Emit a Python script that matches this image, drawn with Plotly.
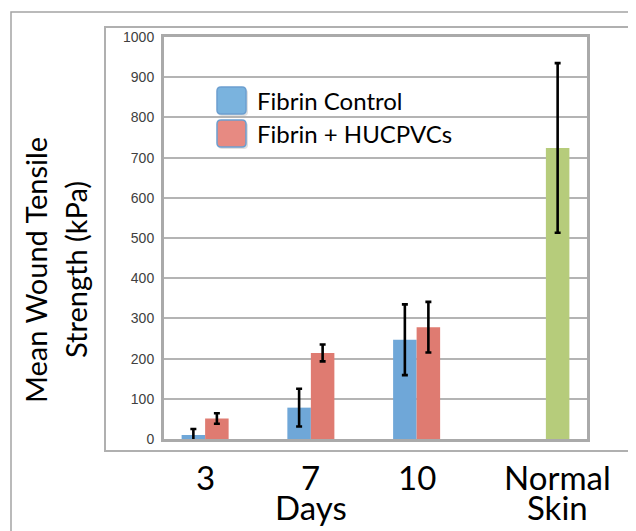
import plotly.graph_objects as go

# ---- data ----
categories = ["3", "7", "10", "Normal Skin"]
tick_labels = ["3", "7", "10", "Normal"]
tick_sublabels = ["", "Days", "", "Skin"]
series_names = ["Fibrin Control", "Fibrin + HUCPVCs", "Normal Skin"]
control_mean = [10, 78, 247, None]
control_err = [15, 47, 88, None]
hucpvc_mean = [51, 214, 278, None]
hucpvc_err = [13, 21, 63, None]
normal_mean = [None, None, None, 724]
normal_err = [None, None, None, 211]
y_title_lines = ["Mean Wound Tensile", "Strength (kPa)"]

# ---- style ----
W, H = 636, 531
OFF = 8  # page body margin of the rendered html
L, R, T, B = 156, 57, 29, 100
PW, PH = W - L - R, H - T - B
BARGAP = 0.333
blue, red, green = "#6fa7d8", "#df7b71", "#b6cc7b"
sw_blue, sw_red = "#7ab3de", "#e78a82"


def px(x):
    # viewport pixel -> paper x
    return (x - OFF - L) / PW


def py(y):
    # viewport pixel -> paper y
    return (H - B - (y - OFF)) / PH


def rrect(x0, y0, x1, y1, r=4):
    def P(x, y):
        return f"{px(x):.5f},{py(y):.5f}"
    return (f"M {P(x0+r,y0)} L {P(x1-r,y0)} Q {P(x1,y0)} {P(x1,y0+r)} "
            f"L {P(x1,y1-r)} Q {P(x1,y1)} {P(x1-r,y1)} L {P(x0+r,y1)} "
            f"Q {P(x0,y1)} {P(x0,y1-r)} L {P(x0,y0+r)} Q {P(x0,y0)} {P(x0+r,y0)} Z")


fig = go.Figure()
err_style = dict(type="data", visible=True, color="black", thickness=2.6, width=3)
for name, vals, errs, col in [
    (series_names[0], control_mean, control_err, blue),
    (series_names[1], hucpvc_mean, hucpvc_err, red),
    (series_names[2], normal_mean, normal_err, green),
]:
    fig.add_trace(go.Bar(
        x=categories, y=vals, name=name, marker=dict(color=col, line=dict(width=0)),
        error_y=dict(array=errs, **err_style), showlegend=False,
    ))

shapes = [
    dict(type="rect", xref="paper", yref="paper", x0=px(11), x1=px(700), y0=py(600), y1=py(12),
         line=dict(color="#a4a4a4", width=1.5), layer="below"),
    dict(type="rect", xref="paper", yref="paper", x0=px(105), x1=px(633), y0=py(451), y1=py(27),
         line=dict(color="#b0b0b0", width=2), layer="below"),
]
for (y0, y1), col in [((87, 114), sw_blue), ((120, 147), sw_red)]:
    shapes.append(dict(type="path", xref="paper", yref="paper", path=rrect(218, y0 + 2, 248, y1 + 2),
                       fillcolor="rgba(0,0,0,0.12)", line=dict(width=0)))
    shapes.append(dict(type="path", xref="paper", yref="paper", path=rrect(217, y0, 246, y1),
                       fillcolor=col, line=dict(color="#6c9fd0", width=1.5)))

annotations = []
for i, name in enumerate(series_names[:2]):
    annotations.append(dict(xref="paper", yref="paper", x=px(255), y=py(100 + 33 * i),
                            xanchor="left", yanchor="middle", text=name, showarrow=False,
                            font=dict(family="Lato", size=24, color="black")))

w = (1 - BARGAP) / 3
offsets = [-w / 2, -w / 2, -w / 2, w]
for i, (lab, sub) in enumerate(zip(tick_labels, tick_sublabels)):
    annotations.append(dict(xref="x", yref="paper", x=i + offsets[i], y=py(455),
                            xanchor="center", yanchor="top", text=lab, showarrow=False,
                            font=dict(family="Lato", size=33, color="black")))
    if sub:
        annotations.append(dict(xref="x", yref="paper", x=i + offsets[i], y=py(485),
                                xanchor="center", yanchor="top", text=sub, showarrow=False,
                                font=dict(family="Lato", size=33, color="black")))

for xx, line in zip([35, 75], y_title_lines):
    annotations.append(dict(xref="paper", yref="paper", x=px(xx), y=py(270), xanchor="center",
                            yanchor="middle", text=line, textangle=-90, showarrow=False,
                            font=dict(family="Lato", size=29, color="black")))

fig.update_layout(
    width=W, height=H, margin=dict(l=L, r=R, t=T, b=B),
    paper_bgcolor="white", plot_bgcolor="white",
    barmode="group", bargap=BARGAP, bargroupgap=0,
    showlegend=False, shapes=shapes, annotations=annotations,
    xaxis=dict(type="category", showticklabels=False, ticks="", showgrid=False,
               showline=True, mirror=True, linecolor="#aaaaaa", linewidth=3,
               range=[-0.5, 3.5], fixedrange=True),
    yaxis=dict(range=[0, 1000], dtick=100, showgrid=True, gridcolor="#b4b4b4", gridwidth=2,
               zeroline=False, showline=True, mirror=True, linecolor="#aaaaaa", linewidth=3,
               ticks="", ticklabelstandoff=4,
               tickfont=dict(family="Liberation Sans", size=14, color="#404040")),
)

fig.write_html("out.html")
